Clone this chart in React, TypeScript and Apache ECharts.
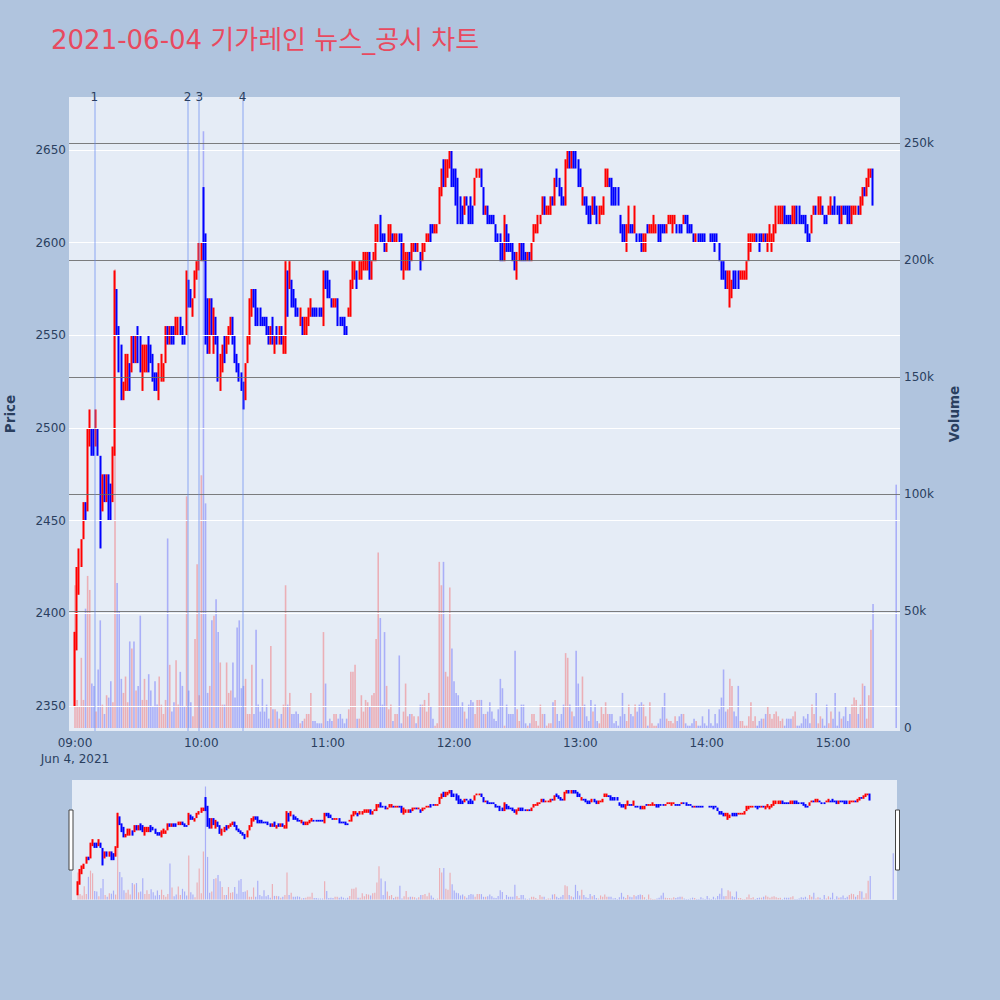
import React, { useEffect, useRef } from "react";
import * as echarts from "echarts";

const TITLE = "2021-06-04 기가레인 뉴스_공시 차트";

// minute bars: [open, close, low, high], from 09:00 (index = minutes after 09:00), plus the 15:30 closing auction
const candles: number[][] = [
  [2355,2385,2350,2390],[2385,2420,2380,2425],[2415,2430,2410,2435],[2430,2440,2425,2440],[2440,2460,2440,2460],
  [2460,2450,2450,2460],[2455,2495,2455,2500],[2495,2510,2490,2510],[2500,2490,2485,2500],[2500,2485,2485,2500],
  [2490,2510,2490,2510],[2500,2485,2485,2500],[2485,2445,2435,2485],[2460,2475,2455,2475],[2475,2460,2460,2475],
  [2460,2475,2460,2475],[2475,2450,2450,2475],[2470,2450,2450,2470],[2460,2490,2460,2490],[2490,2575,2485,2585],
  [2575,2555,2550,2575],[2555,2530,2530,2555],[2545,2515,2515,2545],[2515,2520,2515,2525],[2520,2540,2520,2540],
  [2525,2540,2520,2540],[2535,2520,2520,2535],[2535,2550,2530,2550],[2550,2540,2535,2550],[2540,2550,2535,2550],
  [2555,2540,2535,2555],[2545,2530,2530,2550],[2520,2545,2520,2545],[2530,2545,2530,2545],[2535,2545,2530,2545],
  [2550,2530,2530,2550],[2545,2535,2535,2545],[2535,2525,2525,2540],[2530,2520,2520,2530],[2525,2520,2520,2530],
  [2520,2535,2515,2535],[2525,2535,2525,2540],[2525,2535,2525,2535],[2535,2555,2535,2555],[2555,2545,2545,2555],
  [2550,2555,2545,2555],[2555,2545,2545,2555],[2550,2545,2545,2555],[2550,2560,2550,2560],[2555,2560,2550,2560],
  [2560,2550,2550,2560],[2555,2545,2545,2555],[2550,2545,2545,2550],[2550,2575,2550,2585],[2580,2565,2565,2580],
  [2570,2565,2565,2575],[2560,2570,2560,2570],[2570,2585,2570,2585],[2585,2590,2580,2590],[2590,2600,2585,2600],
  [2590,2600,2590,2600],[2625,2595,2590,2630],[2605,2555,2545,2605],[2570,2545,2540,2570],[2550,2565,2540,2570],
  [2570,2555,2550,2570],[2545,2565,2540,2565],[2560,2545,2545,2560],[2550,2525,2525,2550],[2520,2540,2520,2540],
  [2535,2545,2530,2545],[2550,2540,2535,2550],[2545,2550,2540,2550],[2545,2555,2545,2555],[2550,2560,2550,2560],
  [2560,2545,2545,2560],[2550,2535,2535,2550],[2540,2530,2530,2540],[2535,2525,2525,2535],[2530,2520,2520,2530],
  [2525,2515,2510,2525],[2515,2535,2515,2535],[2535,2550,2535,2550],[2550,2570,2545,2570],[2565,2575,2560,2575],
  [2575,2565,2565,2575],[2575,2555,2555,2575],[2565,2560,2555,2565],[2560,2555,2555,2565],[2560,2555,2555,2560],
  [2560,2555,2555,2560],[2555,2550,2550,2560],[2555,2545,2545,2555],[2545,2555,2545,2555],[2555,2545,2545,2560],
  [2545,2550,2540,2550],[2550,2545,2545,2555],[2545,2555,2545,2555],[2555,2545,2545,2555],[2545,2550,2540,2550],
  [2545,2590,2540,2590],[2585,2560,2560,2585],[2575,2590,2575,2590],[2580,2565,2565,2580],[2575,2565,2565,2575],
  [2570,2560,2560,2570],[2565,2560,2560,2565],[2555,2565,2555,2565],[2560,2550,2550,2560],[2550,2560,2550,2560],
  [2550,2560,2550,2560],[2555,2565,2555,2565],[2560,2570,2560,2570],[2565,2560,2560,2565],[2565,2560,2560,2565],
  [2565,2560,2560,2565],[2565,2560,2560,2565],[2565,2560,2560,2565],[2555,2585,2555,2585],[2585,2575,2575,2585],
  [2580,2575,2570,2585],[2580,2570,2570,2580],[2570,2565,2565,2570],[2565,2570,2565,2570],[2565,2570,2565,2570],
  [2570,2555,2555,2570],[2560,2555,2555,2560],[2560,2555,2555,2560],[2560,2550,2550,2560],[2555,2550,2550,2555],
  [2560,2565,2560,2565],[2560,2580,2560,2580],[2575,2590,2575,2590],[2580,2590,2580,2590],[2585,2575,2575,2585],
  [2580,2590,2580,2590],[2580,2590,2580,2590],[2585,2595,2585,2595],[2590,2595,2585,2595],[2585,2595,2585,2595],
  [2595,2585,2580,2595],[2580,2590,2580,2590],[2590,2595,2590,2595],[2590,2610,2590,2610],[2600,2610,2600,2610],
  [2615,2600,2600,2615],[2605,2600,2600,2605],[2605,2595,2595,2605],[2595,2600,2595,2600],[2600,2610,2600,2610],
  [2605,2610,2600,2610],[2605,2600,2600,2605],[2600,2605,2600,2605],[2600,2605,2600,2605],[2605,2600,2600,2605],
  [2605,2585,2585,2605],[2585,2600,2580,2600],[2585,2595,2585,2595],[2585,2595,2585,2595],[2595,2585,2585,2595],
  [2590,2600,2590,2600],[2595,2600,2595,2600],[2600,2595,2595,2600],[2595,2600,2595,2600],[2595,2585,2585,2595],
  [2590,2600,2590,2600],[2595,2600,2595,2600],[2600,2605,2600,2605],[2600,2605,2600,2605],[2610,2600,2600,2610],
  [2610,2605,2605,2610],[2605,2610,2605,2610],[2605,2610,2605,2610],[2610,2630,2610,2630],[2625,2640,2625,2640],
  [2645,2630,2630,2645],[2630,2645,2630,2645],[2635,2645,2635,2645],[2640,2650,2640,2650],[2650,2630,2630,2650],
  [2640,2630,2630,2640],[2640,2620,2620,2640],[2635,2610,2610,2635],[2625,2610,2610,2625],[2620,2610,2610,2620],
  [2615,2625,2615,2625],[2625,2620,2620,2625],[2620,2610,2610,2620],[2625,2610,2610,2625],[2620,2615,2610,2620],
  [2620,2635,2620,2635],[2635,2640,2635,2640],[2635,2640,2635,2640],[2640,2630,2630,2640],[2630,2615,2615,2630],
  [2615,2620,2615,2620],[2620,2610,2610,2620],[2615,2610,2610,2615],[2615,2610,2610,2615],[2615,2610,2610,2615],
  [2610,2600,2600,2610],[2605,2600,2600,2605],[2605,2590,2590,2605],[2600,2590,2590,2600],[2590,2615,2590,2615],
  [2610,2595,2595,2610],[2605,2595,2595,2605],[2600,2595,2595,2600],[2600,2590,2590,2600],[2595,2585,2585,2595],
  [2585,2595,2580,2595],[2590,2600,2590,2600],[2600,2590,2590,2600],[2600,2590,2590,2600],[2595,2590,2590,2595],
  [2590,2595,2590,2595],[2595,2590,2590,2595],[2590,2600,2590,2600],[2600,2610,2600,2610],[2605,2610,2605,2610],
  [2605,2615,2605,2615],[2610,2615,2610,2615],[2615,2625,2615,2625],[2625,2615,2615,2625],[2615,2620,2615,2620],
  [2615,2620,2615,2620],[2615,2625,2615,2625],[2625,2620,2620,2625],[2620,2635,2620,2635],[2640,2630,2630,2640],
  [2635,2625,2625,2635],[2630,2620,2620,2630],[2625,2620,2620,2625],[2620,2645,2620,2645],[2640,2650,2640,2650],
  [2650,2645,2640,2650],[2640,2650,2640,2650],[2650,2640,2640,2650],[2650,2640,2640,2650],[2645,2630,2630,2645],
  [2640,2630,2630,2640],[2620,2630,2620,2630],[2625,2620,2620,2625],[2625,2615,2615,2625],[2620,2610,2610,2620],
  [2620,2610,2610,2620],[2615,2625,2615,2625],[2625,2615,2615,2625],[2620,2610,2610,2620],[2610,2620,2610,2620],
  [2615,2620,2615,2620],[2615,2625,2615,2625],[2630,2640,2630,2640],[2630,2640,2630,2640],[2635,2630,2630,2635],
  [2635,2620,2620,2635],[2630,2620,2620,2630],[2630,2620,2620,2630],[2630,2620,2620,2630],[2615,2605,2605,2615],
  [2610,2600,2600,2610],[2610,2600,2600,2610],[2600,2610,2595,2610],[2605,2615,2605,2620],[2610,2605,2605,2610],
  [2610,2605,2605,2610],[2605,2620,2605,2620],[2605,2600,2600,2605],[2605,2600,2600,2605],[2605,2595,2595,2605],
  [2595,2605,2595,2605],[2595,2605,2595,2605],[2610,2605,2605,2610],[2605,2610,2605,2610],[2605,2610,2605,2610],
  [2605,2615,2605,2615],[2605,2610,2605,2610],[2610,2600,2600,2610],[2610,2600,2600,2610],[2610,2605,2605,2610],
  [2610,2605,2605,2610],[2605,2610,2605,2610],[2610,2615,2610,2615],[2610,2615,2610,2615],[2605,2615,2605,2615],
  [2610,2615,2610,2615],[2610,2605,2605,2610],[2610,2605,2605,2610],[2610,2605,2605,2610],[2610,2615,2610,2615],
  [2615,2610,2610,2615],[2615,2605,2605,2615],[2610,2605,2605,2610],[2610,2605,2605,2610],[2605,2600,2600,2605],
  [2600,2605,2600,2605],[2605,2600,2600,2605],[2605,2600,2600,2605],[2605,2600,2600,2605],[2605,2600,2600,2605],
  [2600,2600,2600,2600],[2600,2600,2600,2600],[2605,2600,2600,2605],[2605,2600,2600,2605],[2605,2595,2595,2605],
  [2605,2600,2600,2605],[2600,2590,2590,2600],[2590,2580,2580,2590],[2590,2580,2580,2590],[2585,2580,2575,2585],
  [2575,2585,2575,2585],[2570,2585,2565,2585],[2570,2580,2570,2580],[2585,2575,2575,2585],[2585,2575,2575,2585],
  [2585,2575,2575,2585],[2580,2585,2580,2585],[2580,2585,2580,2585],[2580,2585,2580,2585],[2580,2590,2580,2590],
  [2590,2605,2590,2605],[2595,2605,2595,2605],[2600,2605,2600,2605],[2600,2605,2600,2605],[2605,2600,2600,2605],
  [2605,2595,2595,2605],[2605,2600,2600,2605],[2600,2605,2600,2605],[2605,2600,2600,2605],[2595,2605,2595,2605],
  [2605,2610,2600,2610],[2600,2605,2595,2605],[2600,2610,2600,2610],[2605,2620,2605,2620],[2610,2620,2610,2620],
  [2610,2620,2610,2620],[2610,2620,2610,2620],[2620,2610,2610,2620],[2615,2610,2610,2615],[2615,2610,2610,2615],
  [2615,2610,2610,2615],[2610,2620,2610,2620],[2610,2620,2610,2620],[2620,2610,2610,2620],[2620,2610,2610,2620],
  [2615,2610,2610,2615],[2615,2610,2610,2615],[2615,2605,2605,2615],[2610,2600,2600,2610],[2605,2600,2600,2605],
  [2605,2615,2605,2615],[2615,2620,2615,2620],[2620,2615,2615,2620],[2615,2625,2615,2625],[2615,2625,2615,2625],
  [2620,2615,2615,2620],[2615,2610,2610,2615],[2615,2610,2610,2615],[2615,2620,2615,2620],[2615,2625,2615,2625],
  [2620,2615,2615,2620],[2625,2615,2615,2625],[2620,2615,2615,2620],[2620,2610,2610,2620],[2610,2620,2610,2620],
  [2620,2615,2615,2620],[2620,2615,2615,2620],[2620,2610,2610,2620],[2620,2610,2610,2620],[2610,2620,2610,2620],
  [2615,2620,2615,2620],[2615,2620,2615,2620],[2620,2615,2615,2620],[2615,2625,2615,2625],[2620,2630,2620,2630],
  [2630,2625,2625,2630],[2625,2635,2625,2635],[2630,2640,2630,2640],[2635,2640,2635,2640],[2640,2620,2620,2640],
  [2605,2605,2605,2605],
];

// volume per bar, in thousands of shares
const volumesK: number[] = [
  61,12,9,30,12,51,65,59,19,18, 7,25,46,10,6,14,13,20,11,196,
  62,50,21,15,22,11,37,34,37,16, 18,48,12,21,12,23,16,9,20,10,
  22,10,6,12,81,27,7,11,29,10, 24,18,9,99,16,11,5,38,70,14,
  108,255,96,15,18,46,48,55,41,28, 10,10,28,15,16,28,13,43,46,17,
  18,21,6,6,27,6,42,10,7,21, 7,10,4,35,8,8,7,4,6,10,
  61,10,15,6,6,7,6,2,3,4, 6,6,15,3,3,2,2,2,41,19,
  3,4,3,6,6,4,6,4,2,4, 8,24,24,27,4,4,14,7,12,11,
  9,14,15,38,75,47,10,41,18,8, 10,3,6,6,31,2,7,19,5,6,
  6,5,2,5,10,10,12,7,15,9, 4,1,2,71,61,71,24,22,60,34,
  20,15,14,9,11,7,4,10,12,11, 6,12,12,12,6,6,7,11,7,4,
  3,8,21,17,1,10,6,6,6,33, 8,3,10,10,2,1,2,6,6,3,
  1,10,6,6,1,2,2,11,12,6, 3,6,10,32,30,10,7,5,33,19,
  9,22,10,5,3,12,7,10,3,2, 9,6,11,6,6,6,2,3,1,5,
  15,6,3,10,6,5,10,7,10,11, 10,5,1,11,2,1,1,2,4,9,
  15,4,3,3,2,5,3,5,6,6, 2,1,1,2,4,3,1,1,5,2,
  1,8,2,1,6,2,8,13,25,7, 8,21,18,7,5,18,3,3,1,1,
  5,11,3,5,1,3,4,4,6,9, 6,4,6,7,5,3,4,1,4,4,
  4,5,7,1,1,2,5,4,6,2, 10,6,15,2,5,4,1,10,2,7,
  4,15,1,7,4,5,9,3,6,10, 13,12,6,10,19,18,4,14,42,53,
  104,
];

// bar times: minutes after 09:00 (continuous session 09:00-15:19, closing auction 15:30)
const sessionMinutes: number[] = Array.from({ length: 380 }, (_, i) => i);
const minutes: number[] = [...sessionMinutes, 390];

const priceTicks = [2350, 2400, 2450, 2500, 2550, 2600, 2650];
const volumeTicks = [0, 50000, 100000, 150000, 200000, 250000];
const volumeTickLabels = ["0", "50k", "100k", "150k", "200k", "250k"];
const timeTicks = [0, 60, 120, 180, 240, 300, 360];
const timeTickLabels = ["09:00\nJun 4, 2021", "10:00", "11:00", "12:00", "13:00", "14:00", "15:00"];
const eventTimes = [9.2, 53.5, 59.0, 79.6];
const eventLabels = ["1", "2", "3", "4"];

const FONT = '"DejaVu Sans", Verdana, sans-serif';
const INK = "#2a3f5f";
const UP = "#ff0000";
const DOWN = "#0000ff";

export default function App() {
  const ref = useRef<HTMLDivElement>(null);
  useEffect(() => {
    const chart = echarts.init(ref.current!, null, { renderer: "svg" });
    const xMin = -2.85, xMax = 391.8;
    const pMin = 2336.5, pMax = 2678.6;
    const vMin = -1282, vMax = 269660;

    const isUp = (i: number) => candles[i][1] > candles[i][0];
    const candleData = candles.map((c, i) => {
      const col = isUp(i) ? UP : DOWN;
      return { value: [minutes[i], c[0], c[1], c[2], c[3]], itemStyle: { color: col, color0: col, borderColor: col, borderColor0: col } };
    });
    const volData = volumesK.map((v, i) => ({
      value: [minutes[i], v * 1000],
      itemStyle: { color: isUp(i) ? "rgba(255,0,0,0.26)" : "rgba(0,0,255,0.26)" },
    }));

    const hidden = { show: false };
    const option: any = {
      animation: false,
      backgroundColor: "#b0c4de",
      grid: [
        { left: 69, top: 97, width: 831, height: 634, show: true, backgroundColor: "#e5ecf6", borderWidth: 0 },
        { left: 72, top: 780, width: 825, height: 120, show: true, backgroundColor: "#e5ecf6", borderWidth: 0 },
      ],
      xAxis: [
        {
          type: "value", gridIndex: 0, min: xMin, max: xMax,
          axisLine: hidden, axisTick: hidden, splitLine: hidden,
          axisLabel: {
            customValues: timeTicks,
            formatter: (v: number) => { const k = timeTicks.indexOf(v); return k >= 0 ? timeTickLabels[k] : ""; },
            color: INK, fontSize: 12, fontFamily: FONT, margin: 4, lineHeight: 16,
          },
        },
        { type: "value", gridIndex: 1, min: xMin, max: xMax, show: false },
      ],
      yAxis: [
        {
          type: "value", gridIndex: 0, position: "left", min: pMin, max: pMax,
          axisLine: hidden, axisTick: hidden, splitLine: hidden,
          axisLabel: {
            customValues: priceTicks,
            formatter: (v: number) => String(v),
            color: INK, fontSize: 12, fontFamily: FONT, margin: 3,
          },
        },
        {
          type: "value", gridIndex: 0, position: "right", min: vMin, max: vMax,
          axisLine: hidden, axisTick: hidden, splitLine: hidden,
          axisLabel: {
            customValues: volumeTicks,
            formatter: (v: number) => { const k = volumeTicks.indexOf(v); return k >= 0 ? volumeTickLabels[k] : ""; },
            color: INK, fontSize: 12, fontFamily: FONT, margin: 4,
          },
        },
        { type: "value", gridIndex: 1, min: pMin, max: pMax, show: false },
        { type: "value", gridIndex: 1, min: vMin, max: vMax, show: false },
      ],
      series: [
        {
          type: "line", xAxisIndex: 0, yAxisIndex: 0, data: [], silent: true, z: 1,
          markLine: {
            silent: true, symbol: ["none", "none"], label: { show: false },
            lineStyle: { color: "#ffffff", width: 1, type: "solid" },
            data: priceTicks.map((v) => ({ yAxis: v })),
          },
        },
        {
          type: "line", xAxisIndex: 0, yAxisIndex: 1, data: [], silent: true, z: 1,
          markLine: {
            silent: true, symbol: ["none", "none"], label: { show: false },
            lineStyle: { color: "rgba(105,105,105,0.85)", width: 1, type: "solid" },
            data: volumeTicks.filter((v) => v > 0).map((v) => ({ yAxis: v })),
          },
        },
        {
          type: "candlestick", xAxisIndex: 0, yAxisIndex: 0, z: 3,
          encode: { x: 0, y: [1, 2, 3, 4] },
          barWidth: 1.2, itemStyle: { borderWidth: 2 },
          data: candleData,
        },
        {
          type: "bar", xAxisIndex: 0, yAxisIndex: 1, z: 4, barWidth: 1.6,
          data: volData,
        },
        {
          type: "line", xAxisIndex: 0, yAxisIndex: 0, data: [], silent: true, z: 5,
          markLine: {
            silent: true, symbol: ["none", "none"], label: { show: false },
            lineStyle: { color: "rgba(95,135,240,0.45)", width: 1.5, type: "solid" },
            data: eventTimes.map((t) => ({ xAxis: t })),
          },
        },
        {
          type: "candlestick", xAxisIndex: 1, yAxisIndex: 2, z: 3,
          encode: { x: 0, y: [1, 2, 3, 4] },
          barWidth: 1, itemStyle: { borderWidth: 2 },
          data: candleData,
        },
        {
          type: "bar", xAxisIndex: 1, yAxisIndex: 3, z: 4, barWidth: 1.2,
          data: volData,
        },
      ],
    };
    chart.setOption(option);

    const graphics: any[] = [
      {
        type: "text", x: 51, y: 40,
        style: { text: TITLE, fill: "#e84a5f", font: `26px "DejaVu Sans", "Noto Sans CJK KR", sans-serif`, textVerticalAlign: "middle", textAlign: "left" },
      },
      {
        type: "text", x: 10, y: 414, rotation: Math.PI / 2,
        style: { text: "Price", fill: INK, font: `bold 13.5px ${FONT}`, textAlign: "center", textVerticalAlign: "middle" },
      },
      {
        type: "text", x: 954, y: 414, rotation: Math.PI / 2,
        style: { text: "Volume", fill: INK, font: `bold 13.5px ${FONT}`, textAlign: "center", textVerticalAlign: "middle" },
      },
      {
        type: "rect", shape: { x: 69, y: 810, width: 4, height: 60 },
        style: { fill: "#ffffff", stroke: "#444444", lineWidth: 1 }, z: 100,
      },
      {
        type: "rect", shape: { x: 895.5, y: 810, width: 4, height: 60 },
        style: { fill: "#ffffff", stroke: "#444444", lineWidth: 1 }, z: 100,
      },
      ...eventTimes.map((t, i) => ({
        type: "text",
        x: chart.convertToPixel({ xAxisIndex: 0 }, t) as number,
        y: 96.5,
        style: { text: eventLabels[i], fill: INK, font: `12px ${FONT}`, textAlign: "center", textVerticalAlign: "middle" },
        z: 100,
      })),
    ];
    chart.setOption({ graphic: graphics });

    return () => chart.dispose();
  }, []);

  return <div ref={ref} style={{ position: "fixed", left: 0, top: 0, width: 1000, height: 1000 }} />;
}
